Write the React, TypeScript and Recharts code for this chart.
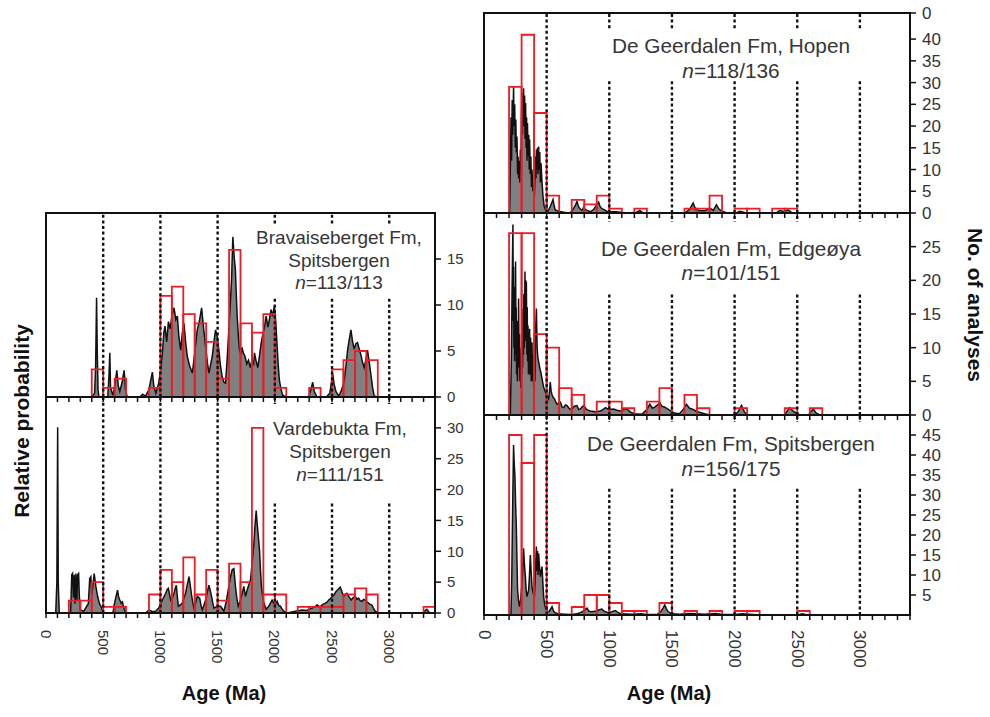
import React from 'react';
import { ComposedChart, Area, XAxis, YAxis, ReferenceArea, ReferenceLine } from 'recharts';

type Pt = [number, number];

const FONT = '"Liberation Sans", Arial, sans-serif';

// histogram bins: [bin start (Ma), no. of analyses], 100 Ma wide
const bravaiseBins: Pt[] = [
  [400, 3], [500, 1], [600, 2], [900, 1], [1000, 11], [1100, 12], [1200, 9], [1300, 8], [1400, 6],
  [1500, 2], [1600, 16], [1700, 8], [1800, 7], [1900, 9], [2000, 1], [2300, 1], [2500, 3], [2600, 4],
  [2700, 5], [2800, 4],
];
const vardebuktaBins: Pt[] = [
  [200, 2], [300, 2], [400, 5], [500, 1], [600, 1], [900, 3], [1000, 7], [1100, 5], [1200, 9], [1300, 3],
  [1400, 7], [1500, 2], [1600, 8], [1700, 5], [1800, 30], [1900, 3], [2000, 3], [2200, 1], [2300, 1],
  [2400, 1], [2500, 1], [2600, 3], [2700, 4], [2800, 3], [3300, 1],
];
const hopenBins: Pt[] = [
  [200, 29], [300, 41], [400, 23], [500, 4], [700, 3], [800, 2], [900, 4], [1000, 1], [1200, 1],
  [1600, 1], [1700, 1], [1800, 4], [2000, 1], [2100, 1], [2300, 1], [2400, 1],
];
const edgeoyaBins: Pt[] = [
  [200, 27], [300, 27], [400, 12], [500, 10], [600, 4], [700, 3], [900, 2], [1000, 2], [1100, 1],
  [1300, 2], [1400, 4], [1600, 3], [1700, 1], [2000, 1], [2400, 1], [2600, 1],
];
const spitsbergenBins: Pt[] = [
  [200, 45], [300, 38], [400, 45], [500, 3], [700, 2], [800, 5], [900, 5], [1000, 3], [1100, 1],
  [1200, 1], [1400, 3], [1600, 1], [1800, 1], [2000, 1], [2100, 1], [2500, 1],
];

// relative probability curves: [age (Ma), height in count units]
const bravaiseCurve: Pt[] = [
  [0, 0], [400, 0], [425, 0.4], [434, 3.5], [442, 10.8], [448, 5], [455, 0.8], [462, 0], [540, 0], [550, 2.2],
  [558, 4.8], [564, 1], [585, 0.2], [605, 1.5], [619, 2.9], [632, 1.2], [645, 0.6], [665, 1.6], [683, 2.9],
  [695, 0.8], [710, 0], [820, 0], [845, 0.3], [870, 0.1], [900, 0.8], [918, 2.0], [930, 2.7], [942, 1.2],
  [960, 0.4], [985, 1.5], [1005, 3.2], [1017, 4.75], [1030, 7.0], [1040, 7.7], [1055, 6.0], [1070, 8.2],
  [1085, 7.4], [1100, 8.8], [1119, 9.7], [1135, 8.4], [1148, 8.8], [1162, 6.5], [1177, 5.1], [1192, 7.0],
  [1206, 8.0], [1220, 6.0], [1235, 4.4], [1255, 3.4], [1279, 2.6], [1300, 4.8], [1322, 7.3], [1340, 8.2],
  [1360, 9.7], [1378, 7.4], [1395, 5.5], [1410, 3.8], [1424, 2.6], [1440, 3.6], [1453, 4.4], [1468, 6.0],
  [1482, 7.3], [1496, 6.6], [1511, 5.1], [1525, 3.4], [1540, 2.2], [1555, 1.6], [1569, 1.5], [1584, 4.2],
  [1598, 7.3], [1610, 10.0], [1622, 12.8], [1633, 17.4], [1645, 15.2], [1655, 13.9], [1670, 9.0],
  [1682, 6.5], [1691, 5.1], [1705, 4.6], [1712, 5.4], [1725, 4.8], [1740, 4.4], [1755, 3.6], [1770, 4.0],
  [1785, 3.2], [1800, 4.0], [1815, 3.6], [1822, 4.8], [1835, 4.0], [1851, 3.2], [1865, 4.4], [1880, 5.8],
  [1895, 6.8], [1910, 7.6], [1924, 8.8], [1940, 7.6], [1955, 8.6], [1967, 9.5], [1980, 8.8], [1996, 9.9],
  [2008, 8.2], [2017, 6.2], [2030, 3.4], [2040, 1.8], [2055, 0.8], [2069, 0.2], [2098, 0], [2295, 0],
  [2315, 0.8], [2331, 1.6], [2345, 0.6], [2370, 0], [2450, 0], [2480, 0.4], [2495, 1.6], [2505, 2.6],
  [2518, 1.4], [2534, 0.6], [2560, 0.1], [2585, 0.8], [2607, 1.8], [2622, 3.4], [2636, 5.1], [2650, 6.2],
  [2665, 7.3], [2680, 6.0], [2694, 5.2], [2708, 5.8], [2723, 5.9], [2738, 5.2], [2752, 4.6], [2766, 3.8],
  [2781, 3.2], [2795, 4.0], [2810, 5.1], [2825, 3.8], [2840, 2.4], [2855, 1.0], [2869, 0.1], [2900, 0],
  [3400, 0],
];
const vardebuktaCurve: Pt[] = [
  [0, 0], [85, 0], [95, 5], [102, 30.1], [107, 5], [116, 0], [215, 0], [225, 6.2], [232, 6.4], [240, 2.5],
  [247, 6.2], [254, 1.5], [262, 6.4], [270, 2.0], [277, 6.2], [285, 6.4], [292, 2.5], [298, 0.5], [330, 0.3],
  [370, 1.5], [382, 5.6], [392, 5.9], [400, 2.8], [410, 4.5], [421, 6.4], [436, 4.3], [448, 3.0],
  [459, 2.1], [470, 1.4], [480, 1.1], [495, 0.3], [509, 0], [585, 0], [596, 1.3], [610, 2.5], [625, 3.7],
  [635, 2.6], [645, 2.1], [657, 1.6], [668, 1.8], [680, 0.8], [697, 0], [870, 0], [901, 0.5], [930, 0.2],
  [959, 0.3], [985, 0.8], [1000, 1.4], [1017, 2.1], [1030, 2.6], [1046, 3.2], [1058, 3.8], [1069, 4.0],
  [1080, 3.0], [1090, 2.1], [1105, 2.5], [1119, 3.2], [1130, 4.0], [1139, 4.5], [1148, 2.6], [1157, 1.1],
  [1175, 1.3], [1191, 1.6], [1205, 2.4], [1220, 3.2], [1235, 4.6], [1250, 5.9], [1260, 4.6], [1270, 3.2],
  [1282, 1.8], [1293, 0.8], [1308, 1.6], [1322, 2.7], [1343, 2.4], [1355, 1.2], [1366, 0.5], [1380, 1.2],
  [1395, 2.1], [1410, 3.4], [1424, 4.5], [1436, 3.6], [1447, 2.7], [1458, 1.6], [1468, 0.8], [1497, 1.1],
  [1526, 1.1], [1555, 0.3], [1575, 1.8], [1588, 3.2], [1598, 4.3], [1612, 5.8], [1627, 7.0], [1642, 7.2],
  [1656, 4.3], [1668, 2.4], [1680, 1.1], [1700, 2.1], [1715, 3.2], [1729, 4.3], [1744, 2.7], [1758, 3.7],
  [1773, 4.6], [1788, 5.4], [1803, 8.5], [1817, 11.2], [1828, 14.5], [1837, 16.6], [1846, 14.4],
  [1854, 12.8], [1866, 10.2], [1875, 6.8], [1883, 4.3], [1894, 2.6], [1904, 1.6], [1924, 0.6], [1947, 1.1],
  [1962, 1.6], [1976, 2.1], [1990, 1.6], [2005, 1.4], [2020, 1.9], [2035, 1.2], [2049, 1.1], [2064, 0.6],
  [2078, 0.3], [2107, 0], [2180, 0.3], [2238, 0.5], [2280, 0.4], [2325, 0.8], [2350, 1.0], [2369, 1.3],
  [2395, 1.0], [2420, 1.4], [2442, 1.6], [2458, 1.8], [2471, 2.1], [2488, 2.4], [2505, 2.7], [2520, 3.0],
  [2535, 3.5], [2552, 3.8], [2572, 4.2], [2587, 3.4], [2601, 2.7], [2615, 3.0], [2630, 3.2], [2648, 2.6],
  [2668, 2.1], [2685, 2.5], [2703, 2.7], [2718, 2.2], [2732, 2.4], [2746, 2.0], [2761, 1.9], [2776, 2.2],
  [2790, 2.1], [2805, 1.8], [2819, 1.6], [2834, 1.4], [2848, 1.3], [2862, 0.8], [2877, 0.3], [2906, 0],
  [3300, 0], [3315, 0.4], [3328, 0.6], [3345, 0.2], [3360, 0], [3400, 0],
];
const hopenCurve: Pt[] = [
  [0, 0], [204, 0], [210, 10], [216, 22], [220, 12], [225, 26], [230, 18], [236, 29.1], [240, 20], [245, 25],
  [250, 15], [254, 21.5], [258, 14], [263, 17.6], [268, 9], [272, 13], [276, 8], [281, 12], [286, 7],
  [290, 14.6], [295, 10], [299, 22], [303, 27.6], [307, 18], [311, 26], [316, 28.7], [320, 20], [324, 27],
  [328, 17], [332, 25.3], [336, 15], [340, 22], [343, 12], [347, 20.7], [352, 13], [357, 18], [361, 10],
  [364, 16.9], [369, 9], [374, 13], [379, 6], [383, 10], [390, 5], [396, 6.9], [402, 4], [407, 9], [412, 13],
  [415, 8], [418, 14.6], [423, 10], [427, 15], [431, 9], [436, 15.3], [440, 10], [445, 14], [450, 7],
  [455, 11.5], [463, 7], [471, 3.8], [480, 1.6], [490, 0.8], [508, 0.4], [518, 0.9], [529, 1.5], [540, 2.3],
  [551, 3.1], [560, 1.6], [569, 0.7], [596, 0.4], [636, 0.2], [680, 0], [700, 0.3], [716, 1.1], [730, 1.8],
  [742, 2.7], [755, 1.4], [769, 0.9], [782, 0.6], [795, 1.3], [808, 0.8], [822, 0.6], [850, 0.3], [875, 0.8],
  [895, 1.6], [915, 2.5], [925, 1.6], [934, 1.2], [955, 0.8], [980, 0.4], [1009, 0.3], [1050, 0.3],
  [1089, 0.2], [1150, 0], [1220, 0.2], [1243, 0.6], [1265, 0.1], [1300, 0], [1600, 0], [1640, 0.8],
  [1669, 2.3], [1690, 0.8], [1720, 0.6], [1760, 0.5], [1802, 1.1], [1830, 0.6], [1855, 1.9], [1875, 0.9],
  [1900, 0.4], [1940, 0], [2010, 0], [2042, 0.4], [2080, 0.1], [2100, 0], [2330, 0], [2361, 0.6],
  [2395, 0.3], [2428, 0.7], [2460, 0], [3400, 0],
];
const edgeoyaCurve: Pt[] = [
  [0, 0], [210, 0], [218, 8], [225, 20], [231, 28.3], [234, 14], [236, 22], [239, 10], [242, 15.8],
  [245, 8], [247, 19], [250, 9], [252, 22.8], [255, 12], [257, 16], [260, 6], [263, 10.8], [267, 5],
  [270, 14], [273, 7], [276, 17.3], [280, 8], [283, 12], [287, 5], [290, 8.4], [294, 4], [298, 10],
  [302, 6], [305, 13], [308, 7], [311, 15.8], [315, 9], [318, 18], [322, 10], [327, 21.3], [330, 12],
  [333, 20], [335, 11], [338, 19.8], [342, 9], [345, 16], [348, 8], [351, 13.3], [355, 6], [358, 11],
  [361, 6], [364, 12.8], [368, 6], [372, 11.5], [377, 5], [383, 10.8], [388, 5], [392, 9], [397, 4],
  [402, 8.4], [406, 5], [410, 11], [418, 15.8], [424, 10], [430, 8.5], [436, 7.9], [445, 7], [455, 6.2],
  [463, 5.4], [475, 4.2], [490, 3.4], [503, 2.8], [516, 2.4], [523, 3.6], [529, 4.9], [536, 3.5],
  [543, 3.0], [553, 2.6], [563, 2.4], [573, 1.9], [583, 1.6], [597, 1.8], [610, 1.9], [623, 1.2],
  [636, 1.1], [650, 1.5], [663, 1.4], [683, 0.9], [703, 0.9], [720, 1.3], [742, 1.4], [756, 0.8],
  [769, 0.9], [782, 1.2], [795, 1.4], [820, 0.8], [849, 0.6], [890, 0.5], [929, 0.6], [950, 0.8],
  [969, 1.1], [1000, 0.8], [1035, 0.9], [1060, 0.7], [1089, 0.6], [1115, 0.8], [1142, 0.9], [1170, 0.4],
  [1200, 0.2], [1260, 0.1], [1300, 0.8], [1323, 1.6], [1345, 1.0], [1365, 1.2], [1385, 1.5], [1403, 1.8],
  [1420, 1.3], [1440, 1.2], [1465, 0.9], [1490, 0.6], [1520, 0.3], [1560, 0.2], [1590, 0.8], [1616, 1.6],
  [1640, 1.0], [1660, 0.9], [1690, 0.6], [1720, 0.4], [1760, 0.2], [1800, 0], [2000, 0], [2030, 0.5],
  [2055, 1.4], [2080, 0.4], [2110, 0], [2400, 0], [2420, 0.6], [2441, 1.1], [2465, 0.6], [2490, 0.3],
  [2520, 0], [2590, 0], [2610, 0.5], [2627, 0.9], [2650, 0.3], [2680, 0], [3400, 0],
];
const spitsbergenCurve: Pt[] = [
  [0, 0], [215, 0], [222, 10], [230, 30], [236, 42.5], [241, 38], [247, 34.6], [252, 28], [258, 22.1],
  [263, 14], [268, 6.3], [276, 3.5], [284, 2.1], [293, 4], [303, 7.9], [310, 12], [316, 16.7], [322, 13],
  [330, 9.6], [337, 6], [343, 4.6], [350, 5.5], [356, 6.2], [363, 10], [370, 15], [376, 11], [383, 7.1],
  [392, 5.5], [402, 4.6], [410, 10], [418, 17.1], [422, 11], [427, 16], [431, 10], [436, 15.4], [443, 12],
  [450, 9.6], [457, 11], [463, 12.1], [470, 8], [476, 4.6], [485, 2.4], [497, 1.3], [510, 0.8], [520, 0.9],
  [532, 1.5], [543, 2.1], [555, 1.0], [566, 0.6], [590, 0.3], [640, 0.2], [700, 0.1], [740, 0.3],
  [769, 0.6], [795, 1.0], [810, 1.4], [822, 1.7], [835, 1.0], [850, 0.8], [875, 0.9], [900, 1.0],
  [920, 1.3], [942, 1.5], [955, 1.0], [970, 0.8], [990, 0.6], [1020, 0.8], [1049, 1.1], [1070, 0.6],
  [1089, 0.4], [1120, 0.3], [1180, 0.2], [1250, 0.3], [1300, 0.1], [1380, 0.1], [1410, 0.8], [1430, 1.8],
  [1443, 2.5], [1455, 1.6], [1470, 0.8], [1500, 0.3], [1560, 0.2], [1640, 0.4], [1690, 0.3], [1760, 0.2],
  [1850, 0.4], [1900, 0.1], [2000, 0.1], [2060, 0.3], [2120, 0.2], [2200, 0], [2500, 0], [2540, 0.3],
  [2580, 0], [3400, 0],
];

const ageTicks = [
  0, 100, 200, 300, 400, 500, 600, 700, 800, 900, 1000, 1100, 1200, 1300, 1400, 1500, 1600, 1700,
  1800, 1900, 2000, 2100, 2200, 2300, 2400, 2500, 2600, 2700, 2800, 2900, 3000, 3100, 3200, 3300, 3400,
];
const ageLabels = [0, 500, 1000, 1500, 2000, 2500, 3000];
const dottedAges = [500, 1000, 1500, 2000, 2500, 3000];

const bravaiseTicks = [0, 5, 10, 15];
const vardebuktaTicks = [0, 5, 10, 15, 20, 25, 30];
const hopenTicks = [0, 5, 10, 15, 20, 25, 30, 35, 40, 46];
const edgeoyaTicks = [0, 5, 10, 15, 20, 25];
const spitsbergenTicks = [5, 10, 15, 20, 25, 30, 35, 40, 45];

const PAD = 14;
const RED = '#ec1c24';

interface Box { l: number; t: number; r: number; b: number }

interface PanelProps {
  curve: Pt[];
  bins: Pt[];
  box: Box;
  yMax: number;
  yTicks: number[];
  tickFont: number;
  showAges: boolean;
  ageMargin?: number;
  yFormat?: (v: number) => string;
}

const Panel: React.FC<PanelProps> = ({ curve, bins, box, yMax, yTicks, tickFont, showAges, ageMargin = 12, yFormat }) => {
  const data = curve.map(([age, p]) => ({ age, p }));
  const rightW = 44;
  const bottomH = showAges ? 60 : 18;
  const w = PAD + (box.r - box.l) + rightW;
  const h = PAD + (box.b - box.t) + bottomH;

  const ageTick = (props: any) => {
    const { x, y, payload } = props;
    if (!showAges || !ageLabels.includes(payload.value)) return <g />;
    return (
      <text
        transform={`translate(${x},${y}) rotate(90)`}
        textAnchor="start"
        dominantBaseline="central"
        fontSize={tickFont}
        fill="#333"
        fontFamily={FONT}
      >
        {payload.value}
      </text>
    );
  };

  return (
    <div style={{ position: 'absolute', left: box.l - PAD, top: box.t - PAD }}>
      <ComposedChart width={w} height={h} data={data} margin={{ top: PAD, left: PAD, right: 0, bottom: 0 }}>
        <XAxis
          dataKey="age"
          type="number"
          domain={[0, 3400]}
          ticks={ageTicks}
          interval={0}
          allowDataOverflow
          height={bottomH}
          tickSize={5}
          tickMargin={ageMargin}
          axisLine={{ stroke: '#111', strokeWidth: 2 }}
          tickLine={{ stroke: '#111', strokeWidth: 1.5 }}
          tick={ageTick}
        />
        <YAxis
          yAxisId="n"
          orientation="right"
          width={rightW}
          domain={[0, yMax]}
          ticks={yTicks}
          interval={0}
          allowDataOverflow
          tickSize={6}
          tickMargin={6}
          axisLine={{ stroke: '#111', strokeWidth: 2 }}
          tickLine={{ stroke: '#111', strokeWidth: 1.5 }}
          tick={{ fontSize: tickFont, fill: '#333', fontFamily: FONT }}
          tickFormatter={yFormat}
        />
        {dottedAges.map((a) => (
          <ReferenceLine key={a} yAxisId="n" x={a} stroke="#111" strokeWidth={2.4} strokeDasharray="3 2.6" />
        ))}
        <Area
          yAxisId="n"
          dataKey="p"
          type="linear"
          stroke="#111"
          strokeWidth={1.5}
          fill="#808080"
          fillOpacity={1}
          dot={false}
          activeDot={false}
          isAnimationActive={false}
        />
        {bins.map(([start, n]) => (
          <ReferenceArea
            key={start}
            yAxisId="n"
            x1={start}
            x2={start + 100}
            y1={0}
            y2={n}
            fill="none"
            fillOpacity={0}
            stroke={RED}
            strokeWidth={1.8}
            strokeOpacity={1}
          />
        ))}
      </ComposedChart>
      <div
        style={{
          position: 'absolute',
          left: PAD - 1,
          top: PAD - 1,
          width: box.r - box.l + 2,
          height: box.b - box.t + 2,
          border: '2px solid #111',
          boxSizing: 'border-box',
          pointerEvents: 'none',
        }}
      />
    </div>
  );
};

interface CaptionProps {
  cover: Box;
  cx: number;
  top: number;
  lineH: number;
  fontSize: number;
  lines: React.ReactNode[];
}

const Caption: React.FC<CaptionProps> = ({ cover, cx, top, lineH, fontSize, lines }) => (
  <>
    <div
      style={{
        position: 'absolute',
        left: cover.l,
        top: cover.t,
        width: cover.r - cover.l,
        height: cover.b - cover.t,
        background: '#fff',
      }}
    />
    <div
      style={{
        position: 'absolute',
        left: cx - 200,
        width: 400,
        top,
        textAlign: 'center',
        fontFamily: FONT,
        fontSize,
        lineHeight: `${lineH}px`,
        color: '#363636',
        whiteSpace: 'nowrap',
      }}
    >
      {lines.map((l, i) => (
        <div key={i}>{l}</div>
      ))}
    </div>
  </>
);

const title: React.CSSProperties = {
  position: 'absolute',
  fontFamily: FONT,
  fontWeight: 'bold',
  color: '#111',
  whiteSpace: 'nowrap',
};

export default function App() {
  return (
    <div style={{ position: 'absolute', left: 0, top: 0, width: 990, height: 717, background: '#fff', overflow: 'hidden' }}>
      <Panel curve={bravaiseCurve} bins={bravaiseBins} box={{ l: 46, t: 213, r: 435, b: 397 }} yMax={20} yTicks={bravaiseTicks} tickFont={15} showAges={false} />
      <Panel curve={vardebuktaCurve} bins={vardebuktaBins} box={{ l: 46, t: 397, r: 435, b: 613 }} yMax={35} yTicks={vardebuktaTicks} tickFont={15} showAges ageMargin={12} />
      <Panel
        curve={hopenCurve}
        bins={hopenBins}
        box={{ l: 484, t: 13, r: 910, b: 213 }}
        yMax={46}
        yTicks={hopenTicks}
        tickFont={17}
        showAges={false}
        yFormat={(v) => (v === 46 ? '0' : String(v))}
      />
      <Panel curve={edgeoyaCurve} bins={edgeoyaBins} box={{ l: 484, t: 213, r: 910, b: 415 }} yMax={30} yTicks={edgeoyaTicks} tickFont={17} showAges={false} />
      <Panel curve={spitsbergenCurve} bins={spitsbergenBins} box={{ l: 484, t: 415, r: 910, b: 615 }} yMax={50} yTicks={spitsbergenTicks} tickFont={17} showAges ageMargin={10} />

      <Caption cover={{ l: 252, t: 225, r: 428, b: 297 }} cx={339} top={227} lineH={22.6} fontSize={19}
        lines={['Bravaiseberget Fm,', 'Spitsbergen', <span><i>n</i>=113/113</span>]} />
      <Caption cover={{ l: 266, t: 404, r: 420, b: 502 }} cx={340} top={416.7} lineH={23.3} fontSize={19}
        lines={['Vardebukta Fm,', 'Spitsbergen', <span><i>n</i>=111/151</span>]} />
      <Caption cover={{ l: 598, t: 29, r: 868, b: 80 }} cx={731} top={32.5} lineH={25} fontSize={20.8}
        lines={['De Geerdalen Fm, Hopen', <span><i>n</i>=118/136</span>]} />
      <Caption cover={{ l: 594, t: 222, r: 870, b: 293 }} cx={731} top={237.3} lineH={24} fontSize={20.8}
        lines={['De Geerdalen Fm, Edgeøya', <span><i>n</i>=101/151</span>]} />
      <Caption cover={{ l: 586, t: 422, r: 876, b: 487 }} cx={731} top={430.8} lineH={25} fontSize={20.8}
        lines={['De Geerdalen Fm, Spitsbergen', <span><i>n</i>=156/175</span>]} />

      <div style={{ ...title, left: 22 - 150, top: 421 - 12, width: 300, textAlign: 'center', fontSize: 21, transform: 'rotate(-90deg)' }}>
        Relative probability
      </div>
      <div style={{ ...title, left: 975 - 150, top: 305 - 12, width: 300, textAlign: 'center', fontSize: 21, transform: 'rotate(90deg)' }}>
        No. of analyses
      </div>
      <div style={{ ...title, left: 224 - 100, top: 682, width: 200, textAlign: 'center', fontSize: 20 }}>Age (Ma)</div>
      <div style={{ ...title, left: 669 - 100, top: 682, width: 200, textAlign: 'center', fontSize: 20 }}>Age (Ma)</div>
    </div>
  );
}
